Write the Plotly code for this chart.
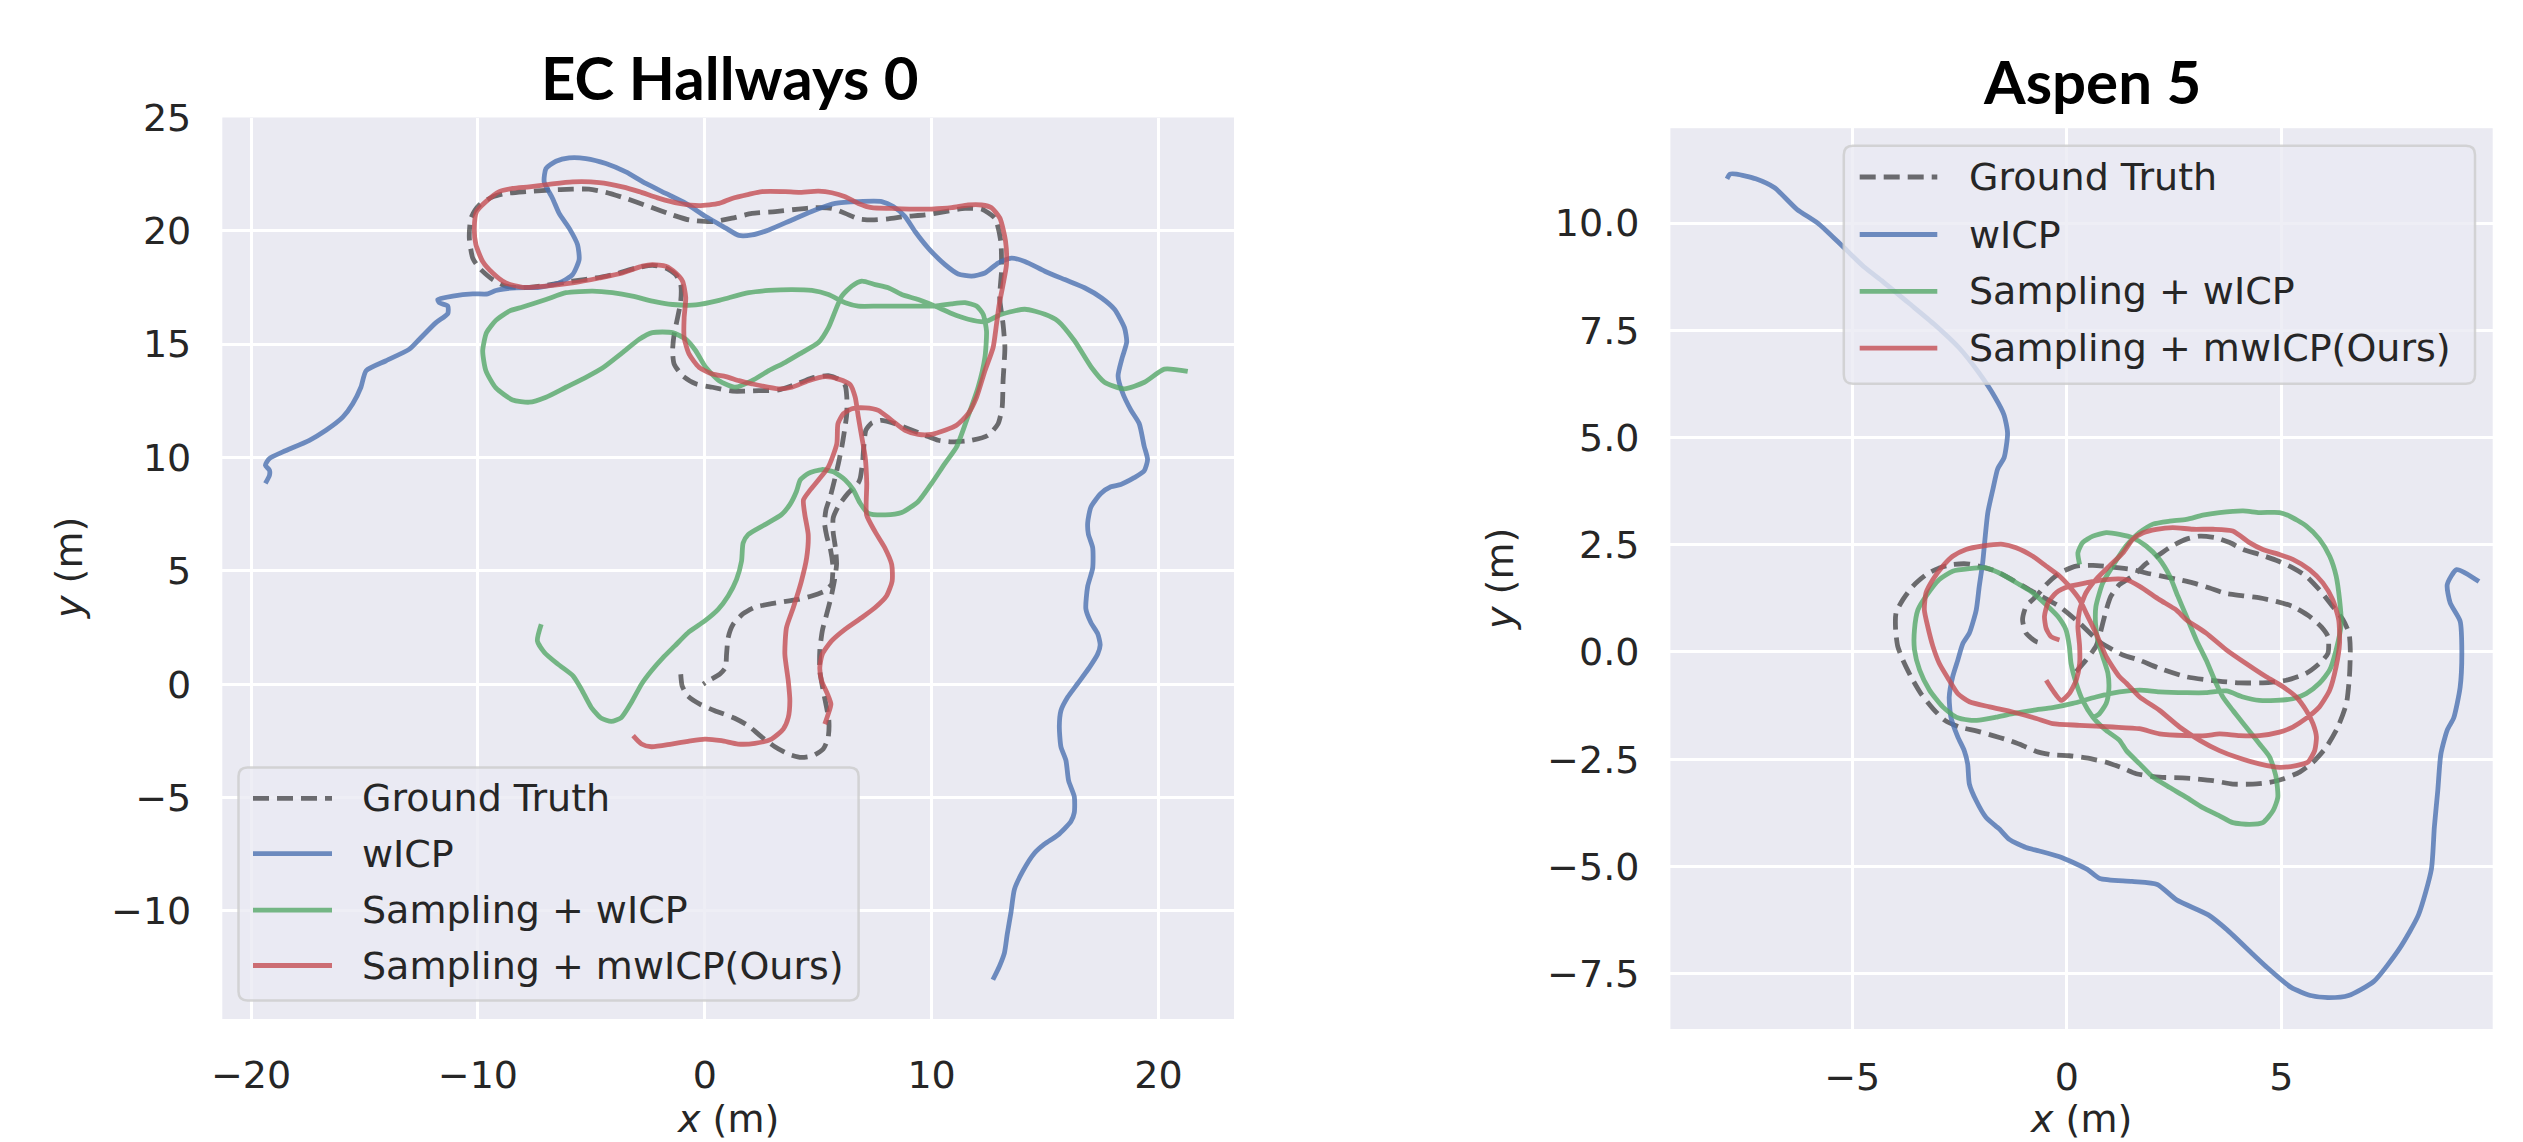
import plotly.graph_objects as go

W, H = 2523, 1142

SERIES = ["Ground Truth", "wICP", "Sampling + wICP", "Sampling + mwICP(Ours)"]
PANEL_TITLES = ["EC Hallways 0", "Aspen 5"]
AXIS_LABELS = ["<i>x</i> (m)", "<i>y</i> (m)"]

# ---------------- EC Hallways 0 trajectories (x, y in metres) ----------------
ec_gt = [
    (-1.06, 0.44), (-1.0, -0.07), (-0.76, -0.51), (-0.22, -0.88), (0.44, -1.17), (1.32, -1.5),
    (1.91, -1.83), (2.5, -2.32), (3.09, -2.76), (3.68, -3.08), (4.26, -3.23), (4.78, -3.15),
    (5.22, -2.86), (5.44, -2.35), (5.47, -1.61), (5.37, -1.03), (5.22, -0.29), (5.07, 0.59),
    (5.07, 1.47), (5.18, 2.35), (5.37, 3.08), (5.56, 3.81), (5.71, 4.55), (5.81, 5.28),
    (5.76, 6.01), (5.66, 6.7), (5.66, 7.33), (5.88, 7.84), (6.32, 8.43), (6.76, 8.87),
    (6.85, 9.08), (6.95, 9.74), (7.01, 10.47), (7.1, 11.2), (7.36, 11.52), (7.8, 11.64),
    (8.39, 11.49), (8.97, 11.27), (9.71, 10.98), (10.29, 10.76), (10.88, 10.69), (11.76, 10.76),
    (12.49, 10.98), (12.93, 11.49), (13.11, 12.22), (13.15, 13.39), (13.23, 14.85), (13.15, 15.88),
    (13.0, 17.05), (13.08, 18.22), (13.05, 19.53), (12.79, 20.56), (12.2, 20.96), (11.47, 20.99),
    (10.59, 20.85), (9.71, 20.7), (8.83, 20.63), (8.09, 20.53), (7.36, 20.48), (6.77, 20.53),
    (6.19, 20.77), (5.6, 20.99), (4.87, 21.02), (4.13, 20.96), (3.11, 20.85), (2.08, 20.77),
    (1.2, 20.56), (0.34, 20.41), (-0.69, 20.48), (-1.42, 20.7), (-2.45, 21.07), (-3.48, 21.43),
    (-4.36, 21.7), (-5.1, 21.84), (-5.83, 21.84), (-6.86, 21.8), (-7.89, 21.73), (-8.77, 21.65),
    (-9.35, 21.5), (-9.94, 21.14), (-10.31, 20.56), (-10.38, 19.68), (-10.23, 18.8), (-9.94, 18.36),
    (-9.35, 17.85), (-8.77, 17.56), (-8.03, 17.49), (-7.0, 17.6), (-5.83, 17.78), (-4.8, 17.92),
    (-3.92, 18.1), (-3.04, 18.36), (-2.31, 18.48), (-1.72, 18.36), (-1.28, 18.07), (-1.06, 17.63),
    (-1.06, 16.9), (-1.2, 16.17), (-1.35, 15.44), (-1.42, 14.71), (-1.35, 14.12), (-0.98, 13.61),
    (-0.4, 13.25), (0.34, 13.1), (1.22, 12.93), (2.38, 12.95), (3.26, 12.98), (3.99, 13.22),
    (4.72, 13.51), (5.45, 13.61), (5.89, 13.46), (6.19, 13.17), (6.26, 12.66), (6.26, 11.93),
    (6.16, 11.2), (6.04, 10.47), (5.89, 9.74), (5.72, 9.01), (5.53, 8.27), (5.34, 7.69),
    (5.28, 7.11), (5.38, 6.52), (5.55, 5.9), (5.65, 5.2), (5.62, 4.6), (5.59, 4.4),
    (5.29, 4.11), (4.71, 3.89), (4.12, 3.74), (2.94, 3.55), (2.21, 3.4), (1.69, 3.11),
    (1.25, 2.64), (1.03, 2.05), (0.96, 1.32), (0.91, 0.73), (0.66, 0.44), (0.15, 0.15),
    (-0.07, 0.0),
]

ec_wicp = [
    (-19.37, 8.86), (-19.19, 9.22), (-19.19, 9.44), (-19.37, 9.66), (-19.19, 9.96), (-18.6, 10.25),
    (-17.43, 10.76), (-16.7, 11.2), (-15.96, 11.78), (-15.52, 12.37), (-15.16, 13.1), (-14.93, 13.83),
    (-14.05, 14.27), (-13.02, 14.78), (-12.58, 15.22), (-11.85, 15.95), (-11.33, 16.35), (-11.33, 16.68),
    (-11.7, 16.83), (-11.77, 16.97), (-11.11, 17.12), (-10.23, 17.22), (-9.57, 17.22), (-9.21, 17.37),
    (-8.33, 17.49), (-7.3, 17.51), (-6.42, 17.7), (-5.83, 18.07), (-5.54, 18.73), (-5.61, 19.39),
    (-5.98, 20.12), (-6.42, 20.77), (-6.71, 21.43), (-7.08, 22.16), (-7.0, 22.75), (-6.56, 23.07),
    (-5.98, 23.22), (-5.24, 23.19), (-4.36, 22.97), (-3.48, 22.6), (-2.6, 22.09), (-1.72, 21.65),
    (-0.84, 21.21), (0.04, 20.63), (0.93, 20.12), (1.5, 19.8), (2.08, 19.82), (2.82, 20.04),
    (3.84, 20.48), (4.87, 20.92), (5.75, 21.21), (6.77, 21.29), (7.8, 21.29), (8.31, 21.07),
    (8.83, 20.63), (9.27, 19.97), (9.85, 19.24), (10.59, 18.51), (11.17, 18.1), (11.76, 18.0),
    (12.35, 18.14), (12.93, 18.58), (13.52, 18.8), (14.11, 18.65), (14.99, 18.22), (15.87, 17.85),
    (16.74, 17.49), (17.48, 17.05), (18.06, 16.54), (18.5, 15.73), (18.6, 15.1), (18.4, 14.4),
    (18.22, 13.6), (18.4, 12.9), (18.78, 12.1), (19.15, 11.5), (19.37, 10.5), (19.52, 9.91),
    (19.37, 9.41), (18.93, 9.11), (18.34, 8.81), (17.9, 8.71), (17.46, 8.41), (17.02, 7.81),
    (16.88, 7.12), (16.91, 6.62), (17.1, 6.02), (17.1, 5.12), (16.88, 4.32), (16.8, 3.32),
    (17.02, 2.72), (17.32, 2.23), (17.43, 1.73), (17.32, 1.33), (16.95, 0.73), (16.44, 0.03),
    (16.0, -0.57), (15.7, -1.17), (15.63, -1.87), (15.7, -2.76), (15.92, -3.36), (16.04, -4.26),
    (16.29, -4.96), (16.29, -5.66), (16.14, -6.06), (15.56, -6.66), (14.97, -7.06), (14.53, -7.46),
    (14.02, -8.25), (13.65, -9.05), (13.5, -10.05), (13.33, -11.05), (13.21, -11.85), (12.99, -12.44),
    (12.7, -13.04),
]

ec_sampling = [
    (-7.21, 2.64), (-7.38, 1.91), (-7.06, 1.39), (-6.47, 0.88), (-5.81, 0.37), (-5.44, -0.22),
    (-5.0, -1.03), (-4.56, -1.5), (-4.12, -1.64), (-3.68, -1.47), (-3.24, -0.81), (-2.79, 0.0),
    (-2.35, 0.59), (-1.84, 1.17), (-1.32, 1.69), (-0.74, 2.27), (0.0, 2.79), (0.59, 3.3),
    (1.03, 3.89), (1.4, 4.62), (1.62, 5.43), (1.69, 6.23), (1.91, 6.6), (2.65, 7.04),
    (3.38, 7.48), (3.75, 7.92), (4.04, 8.5), (4.21, 9.01), (4.57, 9.3), (5.16, 9.47),
    (5.67, 9.37), (6.19, 9.01), (6.55, 8.57), (6.85, 7.98), (7.21, 7.54), (7.95, 7.47),
    (8.68, 7.57), (9.41, 8.06), (10.0, 8.86), (10.59, 9.74), (11.1, 10.47), (11.54, 11.64),
    (12.05, 13.1), (12.35, 14.42), (12.42, 15.58), (12.27, 16.32), (11.98, 16.68), (11.47, 16.83),
    (10.88, 16.78), (10.15, 16.68), (9.41, 16.68), (8.53, 16.68), (7.65, 16.68), (6.77, 16.68),
    (6.19, 16.83), (5.45, 17.19), (4.72, 17.37), (3.84, 17.41), (2.82, 17.37), (1.94, 17.27),
    (1.06, 17.05), (0.63, 16.93), (-0.4, 16.73), (-1.42, 16.75), (-2.31, 16.9), (-3.19, 17.12),
    (-4.07, 17.27), (-4.95, 17.34), (-6.12, 17.27), (-7.0, 16.97), (-8.03, 16.64), (-8.62, 16.46),
    (-9.21, 16.05), (-9.62, 15.51), (-9.79, 14.71), (-9.65, 13.83), (-9.21, 13.07), (-8.47, 12.54),
    (-7.74, 12.44), (-7.0, 12.66), (-6.12, 13.1), (-5.24, 13.54), (-4.51, 13.95), (-3.63, 14.63),
    (-2.89, 15.22), (-2.31, 15.51), (-1.42, 15.51), (-0.84, 15.22), (-0.4, 14.71), (0.04, 13.98),
    (0.63, 13.39), (1.35, 13.1), (2.08, 13.39), (2.82, 13.83), (3.55, 14.2), (4.28, 14.63),
    (5.01, 15.07), (5.45, 15.73), (5.75, 16.46), (6.04, 17.12), (6.48, 17.56), (6.92, 17.78),
    (7.51, 17.63), (8.09, 17.49), (8.68, 17.19), (9.41, 16.97), (10.15, 16.68), (10.88, 16.35),
    (11.61, 16.1), (12.35, 15.99), (13.08, 16.32), (14.11, 16.54), (14.99, 16.32), (15.57, 16.02),
    (16.3, 15.15), (17.04, 13.98), (17.62, 13.32), (18.5, 13.03), (19.38, 13.32), (20.26, 13.9),
    (21.29, 13.8),
]

ec_mwicp = [
    (-3.16, -2.27), (-2.79, -2.64), (-2.35, -2.76), (-1.47, -2.64), (-0.74, -2.52), (0.0, -2.42),
    (0.74, -2.49), (1.47, -2.64), (2.21, -2.61), (2.94, -2.42), (3.46, -1.98), (3.68, -1.47),
    (3.75, -0.73), (3.68, 0.15), (3.53, 1.32), (3.6, 2.49), (3.9, 3.37), (4.26, 4.55),
    (4.49, 5.57), (4.56, 6.6), (4.41, 7.48), (4.35, 8.13), (4.65, 8.57), (5.01, 9.01),
    (5.45, 9.59), (5.82, 10.61), (5.87, 11.49), (6.11, 11.93), (6.48, 12.15), (7.07, 12.19),
    (7.65, 12.08), (8.24, 11.64), (8.83, 11.2), (9.41, 11.02), (10.0, 11.02), (10.59, 11.2),
    (11.1, 11.42), (11.61, 11.93), (11.98, 12.66), (12.35, 13.83), (12.71, 14.85), (12.86, 15.88),
    (12.98, 16.75), (13.15, 17.63), (13.3, 18.51), (13.26, 19.53), (13.01, 20.56), (12.64, 21.02),
    (12.2, 21.14), (11.61, 21.14), (10.88, 21.02), (10.0, 20.96), (9.12, 20.96), (8.24, 20.99),
    (7.36, 21.02), (6.77, 21.21), (6.19, 21.5), (5.6, 21.68), (5.01, 21.75), (4.13, 21.7),
    (3.55, 21.73), (2.52, 21.73), (1.94, 21.61), (1.2, 21.43), (0.63, 21.21), (-0.25, 21.11),
    (-1.13, 21.21), (-2.01, 21.43), (-2.89, 21.73), (-3.63, 21.94), (-4.65, 22.13), (-5.83, 22.16),
    (-6.86, 22.05), (-7.74, 21.94), (-8.47, 21.87), (-9.06, 21.73), (-9.65, 21.29), (-10.06, 20.85),
    (-10.16, 20.12), (-10.09, 19.39), (-9.79, 18.65), (-9.35, 18.14), (-8.77, 17.7), (-8.03, 17.51),
    (-7.0, 17.56), (-5.83, 17.7), (-4.65, 17.92), (-3.63, 18.14), (-2.75, 18.44), (-2.31, 18.51),
    (-1.72, 18.44), (-1.28, 18.14), (-0.98, 17.78), (-0.84, 17.05), (-0.91, 16.17), (-0.91, 15.29),
    (-0.69, 14.56), (-0.25, 13.98), (0.34, 13.68), (0.93, 13.57), (1.51, 13.39), (2.08, 13.25),
    (3.25, 13.03), (3.84, 13.1), (4.57, 13.39), (5.31, 13.57), (5.89, 13.46), (6.41, 13.22),
    (6.63, 12.66), (6.77, 11.78), (6.92, 10.91), (7.07, 10.03), (7.14, 8.86), (7.13, 7.48),
    (7.5, 6.74), (7.94, 6.01), (8.24, 5.28), (8.26, 4.55), (8.01, 3.89), (7.5, 3.37),
    (6.91, 2.93), (6.18, 2.42), (5.59, 1.91), (5.18, 1.32), (5.07, 0.73), (5.15, 0.15),
    (5.41, -0.44), (5.56, -0.88), (5.44, -1.32), (5.29, -1.76),
]

# ---------------- Aspen 5 trajectories (x, y in metres) ----------------
asp_gt = [
    (0.22, -0.46), (0.45, -0.19), (0.68, 0.13), (0.76, 0.36), (0.84, 0.67), (0.92, 0.98),
    (1.03, 1.3), (1.23, 1.57), (1.54, 1.77), (1.85, 2.06), (2.16, 2.27), (2.47, 2.48),
    (2.79, 2.63), (3.1, 2.7), (3.48, 2.66), (3.8, 2.55), (4.11, 2.39), (4.5, 2.27),
    (4.88, 2.14), (5.27, 1.96), (5.58, 1.77), (5.89, 1.45), (6.2, 1.06), (6.44, 0.75),
    (6.58, 0.44), (6.61, 0.05), (6.59, -0.58), (6.52, -1.2), (6.32, -1.75), (6.05, -2.22),
    (5.74, -2.57), (5.43, -2.8), (5.04, -2.96), (4.73, -3.04), (4.34, -3.08), (3.87, -3.08),
    (3.41, -3.0), (2.79, -2.94), (2.16, -2.92), (1.62, -2.84), (1.31, -2.71), (0.92, -2.57),
    (0.45, -2.47), (0.06, -2.42), (-0.33, -2.4), (-0.71, -2.32), (-1.03, -2.18), (-1.38, -2.05),
    (-1.72, -1.95), (-2.11, -1.84), (-2.5, -1.75), (-2.85, -1.59), (-3.12, -1.32), (-3.4, -0.97),
    (-3.63, -0.58), (-3.82, -0.19), (-3.94, 0.13), (-3.99, 0.52), (-3.98, 0.91), (-3.82, 1.22),
    (-3.59, 1.53), (-3.28, 1.8), (-2.97, 1.96), (-2.66, 2.04), (-2.27, 2.05), (-1.65, 1.88),
    (-0.87, 1.45), (-0.17, 1.06), (0.3, 0.67), (0.76, 0.24), (1.31, -0.07), (1.69, -0.19),
    (2.16, -0.38), (2.79, -0.58), (3.41, -0.67), (4.03, -0.72), (4.57, -0.72), (5.12, -0.66),
    (5.58, -0.5), (5.89, -0.27), (6.09, -0.03), (6.09, 0.36), (5.93, 0.59), (5.66, 0.83),
    (5.27, 1.06), (4.88, 1.18), (4.5, 1.26), (4.11, 1.31), (3.72, 1.36), (3.33, 1.49),
    (2.94, 1.61), (2.55, 1.7), (2.16, 1.78), (1.85, 1.84), (1.54, 1.92), (1.23, 1.96),
    (0.61, 2.02), (0.22, 2.0), (-0.17, 1.84), (-0.48, 1.57), (-0.71, 1.3), (-0.95, 1.06),
    (-1.03, 0.75), (-0.95, 0.44), (-0.71, 0.24), (-0.52, 0.2),
]

asp_wicp = [
    (-7.92, 11.03), (-7.85, 11.14), (-7.7, 11.14), (-7.25, 11.03), (-6.81, 10.82), (-6.29, 10.32),
    (-5.77, 9.97), (-5.25, 9.48), (-4.73, 8.98), (-4.28, 8.63), (-3.69, 8.14), (-3.09, 7.64),
    (-2.5, 7.08), (-2.05, 6.51), (-1.68, 5.95), (-1.46, 5.52), (-1.38, 5.1), (-1.46, 4.53),
    (-1.61, 4.27), (-1.72, 3.8), (-1.84, 3.25), (-1.9, 2.7), (-1.96, 2.08), (-2.04, 1.53),
    (-2.11, 0.98), (-2.27, 0.44), (-2.42, 0.2), (-2.54, -0.19), (-2.66, -0.58), (-2.74, -1.05),
    (-2.7, -1.52), (-2.54, -1.98), (-2.39, -2.3), (-2.31, -2.61), (-2.27, -3.08), (-2.11, -3.47),
    (-1.88, -3.86), (-1.57, -4.13), (-1.34, -4.37), (-0.95, -4.56), (-0.64, -4.64), (-0.12, -4.79),
    (0.48, -5.07), (0.77, -5.28), (1.52, -5.35), (2.11, -5.42), (2.56, -5.78), (3.3, -6.13),
    (3.74, -6.48), (4.34, -7.05), (4.64, -7.33), (5.23, -7.82), (5.68, -8.01), (6.12, -8.06),
    (6.57, -8.01), (7.16, -7.68), (7.76, -6.91), (8.2, -6.13), (8.5, -5.07), (8.57, -4.08),
    (8.65, -3.23), (8.72, -2.39), (8.87, -1.82), (9.02, -1.54), (9.17, -0.83), (9.21, 0.01),
    (9.17, 0.72), (8.94, 1.14), (8.87, 1.57), (9.09, 1.92), (9.61, 1.64),
]

asp_sampling = [
    (0.3, 2.04), (0.26, 2.31), (0.37, 2.55), (0.61, 2.7), (0.92, 2.78), (1.23, 2.74),
    (1.54, 2.66), (1.85, 2.47), (2.16, 2.16), (2.4, 1.77), (2.59, 1.3), (2.79, 0.83),
    (3.02, 0.28), (3.25, -0.19), (3.48, -0.73), (3.64, -1.05), (3.87, -1.36), (4.18, -1.75),
    (4.49, -2.14), (4.73, -2.45), (4.88, -2.92), (4.92, -3.39), (4.81, -3.7), (4.57, -3.98),
    (4.26, -4.02), (3.87, -3.98), (3.56, -3.82), (3.17, -3.63), (2.79, -3.39), (2.4, -3.16),
    (2.01, -2.92), (1.7, -2.61), (1.39, -2.3), (1.23, -2.06), (0.92, -1.83), (0.61, -1.52),
    (0.37, -1.13), (0.22, -0.73), (0.1, -0.27), (0.06, 0.13), (-0.02, 0.52), (-0.21, 0.83),
    (-0.48, 1.1), (-0.79, 1.38), (-1.1, 1.57), (-1.49, 1.8), (-1.88, 1.96), (-2.27, 1.94),
    (-2.66, 1.88), (-2.97, 1.69), (-3.28, 1.3), (-3.47, 0.98), (-3.55, 0.52), (-3.55, 0.05),
    (-3.43, -0.42), (-3.2, -0.89), (-2.89, -1.28), (-2.58, -1.52), (-2.27, -1.59), (-2.04, -1.59),
    (-1.65, -1.52), (-1.26, -1.44), (-0.79, -1.36), (-0.33, -1.3), (0.14, -1.2), (0.68, -1.05),
    (1.23, -0.93), (1.7, -0.89), (2.16, -0.93), (2.79, -0.95), (3.25, -0.95), (3.72, -0.91),
    (4.11, -1.05), (4.49, -1.13), (4.88, -1.13), (5.27, -1.09), (5.58, -0.97), (5.89, -0.73),
    (6.13, -0.42), (6.28, 0.05), (6.4, 0.67), (6.36, 1.22), (6.28, 1.77), (6.13, 2.23),
    (5.89, 2.63), (5.58, 2.94), (5.19, 3.17), (4.96, 3.25), (4.49, 3.25), (4.11, 3.29),
    (3.56, 3.25), (3.17, 3.19), (2.79, 3.09), (2.4, 3.05), (2.01, 2.98), (1.69, 2.78),
    (1.38, 2.47), (1.07, 2.0), (0.84, 1.61), (0.68, 1.06), (0.67, 0.67), (0.72, 0.28),
    (0.84, -0.11), (0.96, -0.5), (0.98, -0.89), (0.92, -1.2), (0.76, -1.44), (0.64, -1.52),
]

asp_mwicp = [
    (-0.17, 0.28), (-0.37, 0.36), (-0.48, 0.55), (-0.52, 0.83), (-0.44, 1.14), (-0.25, 1.38),
    (0.06, 1.53), (0.45, 1.61), (0.76, 1.67), (1.07, 1.7), (1.38, 1.69), (1.7, 1.53),
    (2.16, 1.22), (2.55, 0.98), (2.79, 0.75), (3.25, 0.44), (3.72, 0.05), (4.18, -0.27),
    (4.65, -0.58), (5.04, -0.81), (5.35, -1.05), (5.58, -1.36), (5.74, -1.67), (5.82, -1.98),
    (5.78, -2.3), (5.62, -2.57), (5.35, -2.65), (4.96, -2.69), (4.49, -2.61), (3.95, -2.45),
    (3.56, -2.3), (3.1, -2.06), (2.63, -1.75), (2.16, -1.36), (1.7, -1.05), (1.39, -0.73),
    (1.23, -0.58), (0.92, -0.11), (0.68, 0.44), (0.45, 0.91), (0.3, 1.22), (0.06, 1.53),
    (-0.17, 1.77), (-0.48, 2.0), (-0.79, 2.23), (-1.18, 2.43), (-1.49, 2.51), (-1.96, 2.47),
    (-2.35, 2.39), (-2.66, 2.23), (-2.89, 2.0), (-3.12, 1.69), (-3.28, 1.38), (-3.32, 0.98),
    (-3.24, 0.59), (-3.12, 0.13), (-2.97, -0.27), (-2.74, -0.66), (-2.54, -0.97), (-2.27, -1.16),
    (-1.8, -1.28), (-1.26, -1.4), (-0.71, -1.55), (-0.33, -1.67), (0.3, -1.71), (1.07, -1.75),
    (1.69, -1.79), (2.16, -1.91), (2.79, -1.95), (3.25, -1.95), (3.56, -1.91), (4.03, -1.95),
    (4.49, -1.95), (4.96, -1.87), (5.27, -1.75), (5.58, -1.55), (5.89, -1.28), (6.13, -0.89),
    (6.28, -0.34), (6.36, 0.2), (6.34, 0.75), (6.2, 1.22), (5.97, 1.61), (5.66, 1.92),
    (5.27, 2.16), (4.96, 2.27), (4.57, 2.39), (4.26, 2.55), (3.87, 2.82), (3.41, 2.86),
    (2.94, 2.86), (2.47, 2.9), (2.09, 2.86), (1.78, 2.78), (1.54, 2.63), (1.31, 2.31),
    (0.99, 2.0), (0.68, 1.69), (0.45, 1.38), (0.3, 0.98), (0.26, 0.59), (0.3, 0.13),
    (0.3, -0.27), (0.22, -0.66), (0.06, -0.97), (-0.13, -1.13), (-0.33, -0.89), (-0.48, -0.66),
]

# ---------------- styling ----------------
BG = "#EAEAF2"
TEXT = "#262626"
STYLES = [
    dict(color="rgba(0,0,0,0.55)", dash="16px,8px"),
    dict(color="rgba(76,114,176,0.8)", dash="solid"),
    dict(color="rgba(85,168,104,0.8)", dash="solid"),
    dict(color="rgba(196,78,82,0.8)", dash="solid"),
]
LW = 4.8
TICK_FONT = dict(family="DejaVu Sans", size=38, color=TEXT)


def px(x):
    return x / W


def py(y):
    return 1 - y / H


fig = go.Figure()

panels = [
    ([ec_gt, ec_wicp, ec_sampling, ec_mwicp], "x", "y"),
    ([asp_gt, asp_wicp, asp_sampling, asp_mwicp], "x2", "y2"),
]
for paths, xa, ya in panels:
    for name, pts, st in zip(SERIES, paths, STYLES):
        fig.add_trace(go.Scatter(
            x=[p[0] for p in pts], y=[p[1] for p in pts],
            mode="lines", name=name, showlegend=False,
            line=dict(color=st["color"], width=LW, dash=st["dash"],
                      shape="spline", smoothing=0.6),
            xaxis=xa, yaxis=ya, hoverinfo="skip",
        ))

axis_common = dict(
    showgrid=True, gridcolor="white", gridwidth=3, zeroline=False,
    showline=False, ticks="", tickfont=TICK_FONT, automargin=False,
)

# panel boxes in pixels: left, top, right, bottom
BOX_L = (222.3, 117.5, 1234.0, 1019.0)
BOX_R = (1670.4, 128.2, 2492.7, 1029.0)

fig.update_layout(
    width=W, height=H, autosize=False,
    margin=dict(l=0, r=0, t=0, b=0, pad=0),
    paper_bgcolor="white", plot_bgcolor=BG,
    xaxis=dict(domain=[px(BOX_L[0]), px(BOX_L[2])], range=[-21.27, 23.33],
               dtick=10, tick0=0, anchor="y", ticklabelstandoff=30, **axis_common),
    yaxis=dict(domain=[py(BOX_L[3]), py(BOX_L[1])], range=[-14.77, 25.0],
               dtick=5, tick0=0, anchor="x", ticklabelstandoff=30, **axis_common),
    xaxis2=dict(domain=[px(BOX_R[0]), px(BOX_R[2])], range=[-9.24, 9.93],
                dtick=5, tick0=0, anchor="y2", ticklabelstandoff=22, **axis_common),
    yaxis2=dict(domain=[py(BOX_R[3]), py(BOX_R[1])], range=[-8.79, 12.21],
                dtick=2.5, tick0=0, tickformat=".1f", anchor="x2",
                ticklabelstandoff=30, **axis_common),
)

annotations = []
shapes = []

# panel titles
for title, cx, cy in [(PANEL_TITLES[0], 730, 77), (PANEL_TITLES[1], 2092, 81)]:
    annotations.append(dict(
        text=f"<b>{title}</b>", x=px(cx), y=py(cy), xref="paper", yref="paper",
        xanchor="center", yanchor="middle", showarrow=False,
        font=dict(family="Lato", size=60, color="black"),
    ))

# axis titles
for text, cx, cy, ang in [
    (AXIS_LABELS[0], 728, 1119, 0), (AXIS_LABELS[1], 69, 568, -90),
    (AXIS_LABELS[0], 2081, 1119, 0), (AXIS_LABELS[1], 1500, 579, -90),
]:
    annotations.append(dict(
        text=text, x=px(cx), y=py(cy), xref="paper", yref="paper",
        xanchor="center", yanchor="middle", showarrow=False, textangle=ang,
        font=dict(family="DejaVu Sans", size=38, color=TEXT),
    ))


def rounded_rect(x0, y0, x1, y1, r):
    pts = [
        f"M{px(x0 + r)},{py(y0)}",
        f"L{px(x1 - r)},{py(y0)}", f"Q{px(x1)},{py(y0)} {px(x1)},{py(y0 + r)}",
        f"L{px(x1)},{py(y1 - r)}", f"Q{px(x1)},{py(y1)} {px(x1 - r)},{py(y1)}",
        f"L{px(x0 + r)},{py(y1)}", f"Q{px(x0)},{py(y1)} {px(x0)},{py(y1 - r)}",
        f"L{px(x0)},{py(y0 + r)}", f"Q{px(x0)},{py(y0)} {px(x0 + r)},{py(y0)}", "Z",
    ]
    return " ".join(pts)


def add_legend(box, rows, line_x0, line_x1, text_x):
    shapes.append(dict(
        type="path", xref="paper", yref="paper", layer="above",
        path=rounded_rect(*box, 9),
        fillcolor="rgba(234,234,242,0.8)",
        line=dict(color="rgba(204,204,204,0.8)", width=2.5),
    ))
    for name, st, ry in zip(SERIES, STYLES, rows):
        shapes.append(dict(
            type="line", xref="paper", yref="paper", layer="above",
            x0=px(line_x0), x1=px(line_x1), y0=py(ry), y1=py(ry),
            line=dict(color=st["color"], width=LW, dash=st["dash"]),
        ))
        annotations.append(dict(
            text=name, x=px(text_x), y=py(ry), xref="paper", yref="paper",
            xanchor="left", yanchor="middle", showarrow=False,
            font=dict(family="DejaVu Sans", size=38, color=TEXT),
        ))


add_legend((238.5, 767.4, 858.6, 1000.5), [798.4, 853.6, 910.2, 965.5], 253, 332, 360)
add_legend((1843.8, 145.7, 2475.0, 383.8), [177.0, 234.5, 291.3, 348.1], 1859.7, 1937.3, 1967)

fig.update_layout(annotations=annotations, shapes=shapes)

# the page body gets no default margin so the figure sits at the window origin
fig.write_html("out.html", post_script="document.body.style.margin='0';")
